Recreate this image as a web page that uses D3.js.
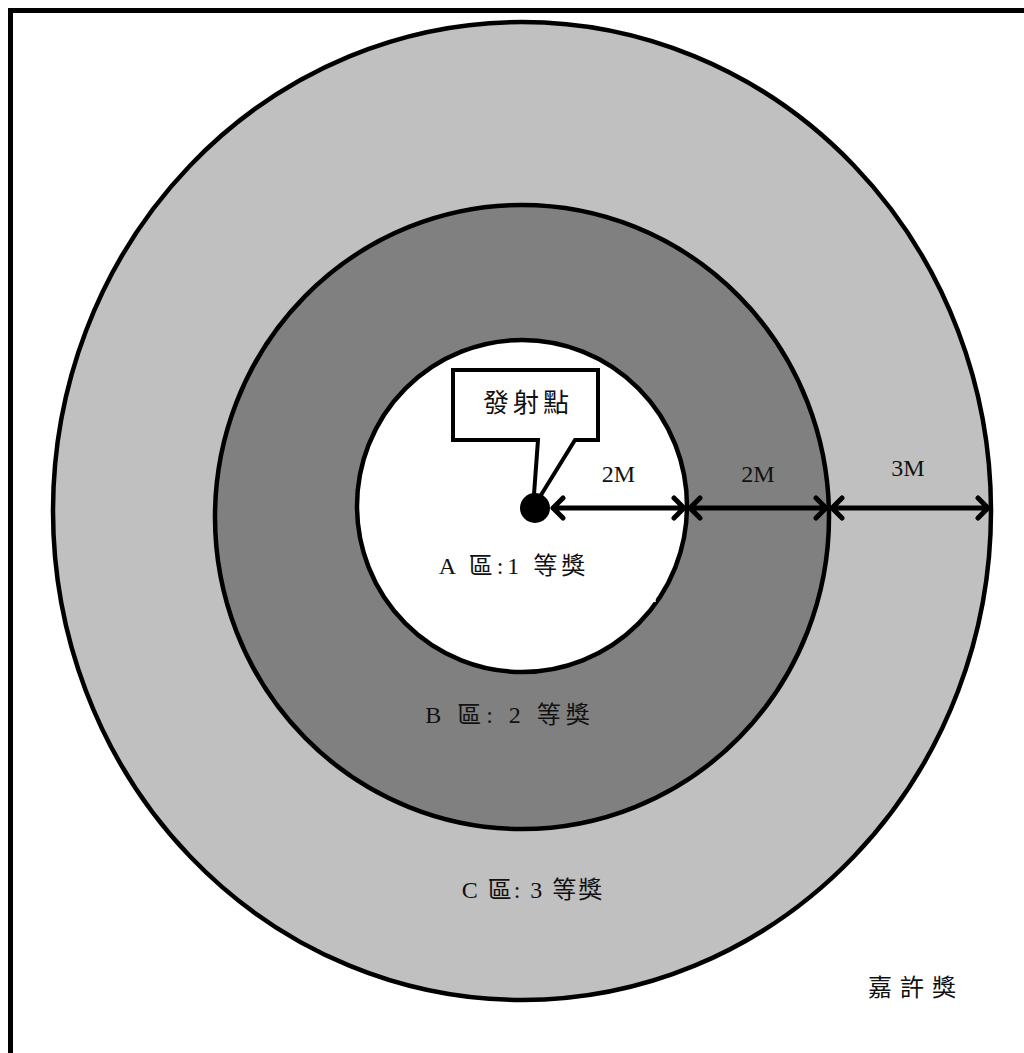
<!DOCTYPE html>
<html lang="zh-Hant">

<head>
    <meta charset="UTF-8">
    <title>發射點</title>
    <style>
        body {
            margin: 0;
            background: #fff;
        }

        .ring {
            stroke: #000;
            stroke-width: 4.5px;
        }

        .arrow {
            fill: none;
            stroke: #000;
            stroke-width: 5px;
            stroke-linecap: round;
            stroke-linejoin: round;
        }

        .label {
            font-family: "Liberation Serif", "Noto Sans CJK TC", serif;
            font-size: 24px;
            text-anchor: middle;
            fill: #111;
        }

        .dist {
            font-family: "Liberation Serif", serif;
            font-size: 24px;
            text-anchor: middle;
            fill: #111;
        }
    </style>
</head>

<body>
    <script src="https://d3js.org/d3.v7.min.js"></script>
    <script>
        // zones from the outside in
        const zones = ['C', 'B', 'A'];
        const zoneLabels = ['C 區: 3 等獎', 'B 區: 2 等獎', 'A 區:1 等獎'];
        const zoneRadius = [7, 4, 2];          // metres from launch point
        const zoneFill = ['#c0c0c0', '#808080', '#ffffff'];
        const bandWidths = [2, 2, 3];          // 2M, 2M, 3M
        const bandLabels = ['2M', '2M', '3M'];
        const outsideLabel = '嘉許獎';
        const launchLabel = '發射點';

        const width = 1024;
        const height = 1053;
        const cx = 522;
        const cy = 510;

        // the drawing is not to scale, so the radius scales are piecewise
        const rx = d3.scaleLinear().domain([0, 2, 4, 7]).range([0, 165, 307, 469]);
        const ry = d3.scaleLinear().domain([0, 2, 4, 7]).range([0, 166, 312, 489]);
        // small vertical offset of each ellipse centre in the drawing
        const dy = d3.scaleLinear().domain([0, 2, 4, 7]).range([0, -4, 7, 1]);

        const svg = d3.select('body')
            .append('svg')
            .attr('width', width)
            .attr('height', height);

        // frame: top and left edges only
        svg.append('path')
            .attr('d', `M10.5,${height} V10.5 H${width}`)
            .attr('fill', 'none')
            .attr('stroke', '#000')
            .attr('stroke-width', 5);

        svg.selectAll('ellipse.ring')
            .data(zones)
            .enter().append('ellipse')
            .attr('class', 'ring')
            .attr('cx', cx)
            .attr('cy', (d, i) => cy + dy(zoneRadius[i]))
            .attr('rx', (d, i) => rx(zoneRadius[i]))
            .attr('ry', (d, i) => ry(zoneRadius[i]))
            .attr('fill', (d, i) => zoneFill[i]);

        // little white patch on the inner border seen in the original
        svg.append('rect')
            .attr('x', cx + rx(2) * 0.78)
            .attr('y', cy + 80)
            .attr('width', 5)
            .attr('height', 12)
            .attr('fill', '#fff');

        // zone labels
        const labelY = [892, 717, 568];
        const labelX = [533, 510, 514];
        const labelSpacing = [2, 5, 4];
        svg.selectAll('text.zone')
            .data(zoneLabels)
            .enter().append('text')
            .attr('class', 'label zone')
            .attr('x', (d, i) => labelX[i])
            .attr('y', (d, i) => labelY[i])
            .style('letter-spacing', (d, i) => labelSpacing[i] + 'px')
            .attr('dominant-baseline', 'middle')
            .text(d => d);

        svg.append('text')
            .attr('class', 'label')
            .attr('x', 916)
            .attr('y', 990)
            .style('letter-spacing', '8px')
            .attr('dominant-baseline', 'middle')
            .text(outsideLabel);

        // distance arrows along the horizontal through the centre
        const starts = d3.cumsum([0].concat(bandWidths.slice(0, -1)));
        const head = 10;
        const ay = cy - 2;
        bandWidths.forEach((w, i) => {
            let x0 = cx + rx(starts[i]);
            const x1 = cx + rx(starts[i] + w);
            if (i === 0) x0 += 28;
            const a = x0 + 3;
            const b = x1 - 3;
            const p = d3.path();
            p.moveTo(a, ay);
            p.lineTo(b, ay);
            p.moveTo(a + head, ay - head);
            p.lineTo(a, ay);
            p.lineTo(a + head, ay + head);
            p.moveTo(b - head, ay - head);
            p.lineTo(b, ay);
            p.lineTo(b - head, ay + head);
            svg.append('path')
                .attr('class', 'arrow')
                .attr('d', p.toString());
            svg.append('text')
                .attr('class', 'dist')
                .attr('x', (x0 + x1) / 2 + (i === 2 ? -2 : 0))
                .attr('y', ay - (i === 2 ? 38 : 32))
                .attr('dominant-baseline', 'middle')
                .text(bandLabels[i]);
        });

        // launch point with callout
        const dotX = cx + 13;
        svg.append('path')
            .attr('d', `M453,370 H598 V440 H575 L${dotX - 2},${ay} L538,440 H453 Z`)
            .attr('fill', '#fff')
            .attr('stroke', '#000')
            .attr('stroke-width', 4)
            .attr('stroke-linejoin', 'miter');

        svg.append('circle')
            .attr('cx', dotX)
            .attr('cy', ay)
            .attr('r', 15)
            .attr('fill', '#000');

        svg.append('text')
            .attr('class', 'label')
            .attr('x', 528)
            .attr('y', 406)
            .style('font-size', '26px')
            .style('letter-spacing', '4px')
            .attr('dominant-baseline', 'middle')
            .text(launchLabel);
    </script>
</body>

</html>
